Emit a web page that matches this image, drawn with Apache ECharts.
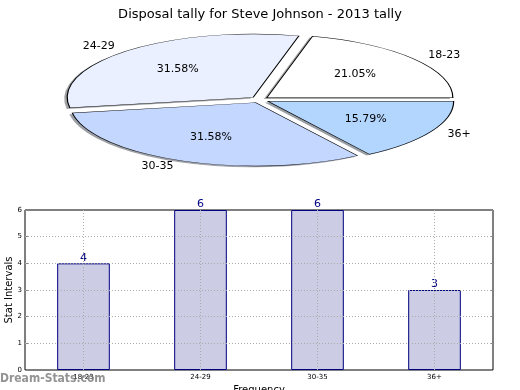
<!DOCTYPE html>
<html>
<head>
<meta charset="utf-8">
<script src="https://cdn.jsdelivr.net/npm/echarts@6/dist/echarts.min.js"></script>
<style>
html,body{margin:0;padding:0;background:#fff;}
#c{width:520px;height:390px;}
</style>
</head>
<body>
<div id="c"></div>
<script>
// ---- data ----
const titleText = 'Disposal tally for Steve Johnson - 2013 tally';
const categories = ['18-23', '24-29', '30-35', '36+'];
const counts = [4, 6, 6, 3];
const yTicks = [0, 1, 2, 3, 4, 5, 6];
const yAxisName = 'Stat Intervals';
const xAxisName = 'Frequency';
const watermark = 'Dream-Stats.com';

// ---- styles ----
const sliceColors = [[255,255,255],[234,240,255],[196,215,255],[179,214,255]];
const FONT = '"DejaVu Sans", Verdana, sans-serif';
const PIE = {cx: 259.5, cy: 99.7, rx: 186, ry: 63.4, explode: 0.05};

const total = counts.reduce((a, b) => a + b, 0);
const cumulative = [];
counts.reduce((acc, v, i) => { cumulative[i] = acc; return acc + v; }, 0);

function rgb(c){ return 'rgb(' + c.join(',') + ')'; }

function renderSlice(params, api) {
  const i = params.dataIndex;
  const v = api.value(0);
  const a1 = cumulative[i] / total * Math.PI * 2;
  const a2 = (cumulative[i] + v) / total * Math.PI * 2;
  const mid = (a1 + a2) / 2;
  const k = PIE.ry / PIE.rx;
  const e = PIE.explode;
  const ox = PIE.cx + e * PIE.rx * Math.cos(mid);
  const oy = PIE.cy - e * PIE.rx * Math.sin(mid);
  const shape = {cx: ox, cy: oy, r0: 0, r: PIE.rx, startAngle: -a2, endAngle: -a1, clockwise: true};
  const c = sliceColors[i];
  const shadowCol = 'rgba(' + c.map(x => Math.round(x * 0.3)).join(',') + ',0.5)';
  const dx = Math.cos(mid), dy = Math.sin(mid);
  const lx = PIE.cx + (1.1 + e) * PIE.rx * dx;
  const ly = PIE.cy - (1.1 + e) * PIE.ry * dy;
  const px = PIE.cx + (0.6 + e) * PIE.rx * dx;
  const py = PIE.cy - (0.6 + e) * PIE.ry * dy;
  const pct = (v / total * 100).toFixed(2) + '%';
  const align = dx >= 0 ? 'left' : 'right';
  return {
    type: 'group',
    children: [
      {type: 'sector', shape: shape, originX: 0, originY: PIE.cy, scaleY: k, x: -3, y: 1.3, z2: 0,
       style: {fill: shadowCol, stroke: null}},
      {type: 'sector', shape: shape, originX: 0, originY: PIE.cy, scaleY: k, z2: 10,
       style: {fill: rgb(c), stroke: '#000', lineWidth: 1.2, strokeNoScale: true}},
      {type: 'text', x: lx, y: ly, z2: 20,
       style: {text: categories[i], fill: '#000', fontSize: 11, fontFamily: FONT, align: align, textAlign: align, verticalAlign: 'middle', textVerticalAlign: 'middle'}},
      {type: 'text', x: px, y: py, z2: 20,
       style: {text: pct, fill: '#000', fontSize: 11, fontFamily: FONT, align: 'center', textAlign: 'center', verticalAlign: 'middle', textVerticalAlign: 'middle'}}
    ]
  };
}

const gridLineStyle = {type: [1, 2], color: '#aaaaaa', width: 1};
const markData = yTicks.slice(1, -1).map(v => ({yAxis: v}))
  .concat(categories.map(c => ({xAxis: c})));

const chart = echarts.init(document.getElementById('c'), null, {renderer: 'canvas'});
chart.setOption({
  animation: false,
  backgroundColor: '#fff',
  textStyle: {fontFamily: FONT},
  title: {
    text: titleText, left: 'center', top: 3,
    textStyle: {fontSize: 13, fontWeight: 'normal', color: '#000', fontFamily: FONT}
  },
  grid: {left: 25, right: 27, top: 210, bottom: 20, show: true, borderColor: '#000', borderWidth: 1,
         backgroundColor: 'transparent', containLabel: false, outerBoundsMode: 'none'},
  xAxis: {
    type: 'category', data: categories,
    name: xAxisName, nameLocation: 'middle', nameGap: 15, nameMoveOverlap: false,
    nameTextStyle: {fontSize: 10, color: '#000', fontFamily: FONT, verticalAlign: 'top'},
    axisLine: {show: false},
    axisTick: {show: true, inside: true, alignWithLabel: true, length: 3, lineStyle: {color: '#000'}},
    axisLabel: {fontSize: 7, color: '#000', margin: 4, fontFamily: FONT},
    splitLine: {show: false}
  },
  yAxis: [{
    type: 'value', min: 0, max: 6, interval: 1,
    name: yAxisName, nameLocation: 'middle', nameGap: 11, nameRotate: 90, nameMoveOverlap: false,
    nameTextStyle: {fontSize: 10, color: '#000', fontFamily: FONT},
    axisLine: {show: false},
    axisTick: {show: true, inside: true, length: 3, lineStyle: {color: '#888'}},
    axisLabel: {fontSize: 7, color: '#000', margin: 3, fontFamily: FONT},
    splitLine: {show: false}
  }, {
    type: 'value', min: 0, max: 6, interval: 1, position: 'right',
    axisLine: {show: false},
    axisTick: {show: true, inside: true, length: 3, lineStyle: {color: '#888'}},
    axisLabel: {show: false},
    splitLine: {show: false}
  }],
  graphic: [{
    type: 'text', left: 0, top: 373, z: 100,
    style: {text: watermark, fill: 'rgba(120,120,120,0.8)', fontSize: 12, fontWeight: 'bold', fontFamily: '"DejaVu Sans Condensed", "DejaVu Sans", sans-serif'}
  }],
  series: [
    {
      type: 'custom', coordinateSystem: 'none',
      data: counts, renderItem: renderSlice, silent: true
    },
    {
      type: 'bar', data: counts, barWidth: '45%',
      itemStyle: {color: '#ccccE5', borderColor: '#000080', borderWidth: 1},
      label: {show: true, position: 'top', distance: 0, color: '#000080', fontSize: 11, fontFamily: FONT},
      markLine: {
        silent: true, symbol: 'none', label: {show: false},
        lineStyle: gridLineStyle, emphasis: {disabled: true},
        data: markData
      }
    }
  ]
});
</script>
</body>
</html>
